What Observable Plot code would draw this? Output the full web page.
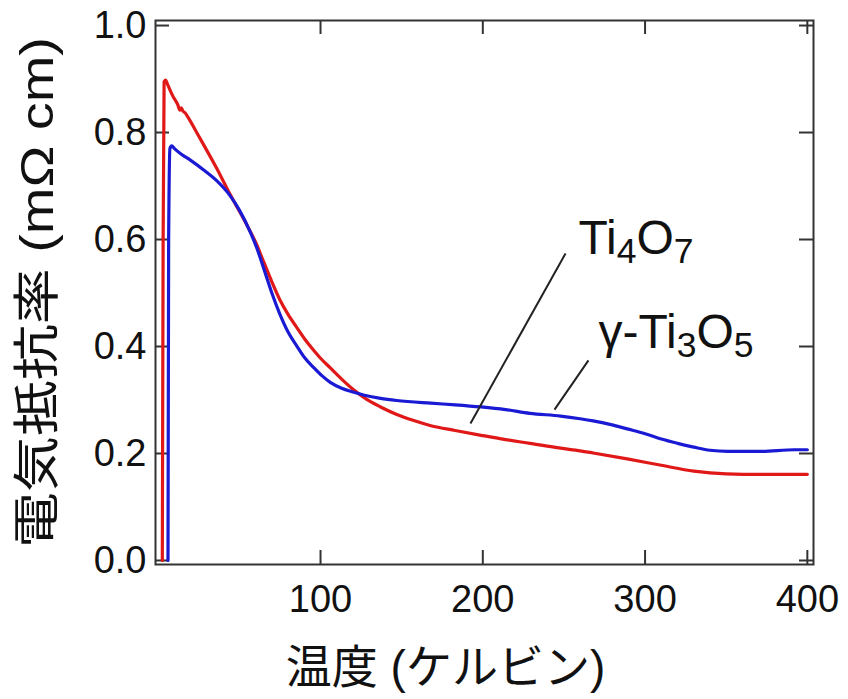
<!DOCTYPE html>
<html>
<head>
<meta charset="utf-8">
<script src="https://cdn.jsdelivr.net/npm/d3@7"></script>
<script src="https://cdn.jsdelivr.net/npm/@observablehq/plot@0.6"></script>
<style>
  html, body { margin: 0; padding: 0; background: #fff; }
</style>
</head>
<body>
<div id="chart"></div>
<script>
// ---- Data ----
const xTicks = [100, 200, 300, 400];
const yTicks = [0.0, 0.2, 0.4, 0.6, 0.8, 1.0];

// Ti4O7 (red)
const redT = [2.5, 3.0, 3.6, 4.5, 6, 9, 12, 13.3, 14.2, 15.2, 16.5, 18, 25, 36, 44.5, 50, 55, 60, 65, 70, 75, 80, 85, 90, 96, 100, 106, 113, 120, 128, 137, 147, 157, 168, 183, 199, 214, 229, 248, 260, 268, 289, 310, 330, 350, 371, 400];
const redR = [0.0, 0.60, 0.895, 0.898, 0.888, 0.868, 0.852, 0.842, 0.846, 0.840, 0.837, 0.830, 0.793, 0.733, 0.683, 0.653, 0.625, 0.595, 0.558, 0.521, 0.487, 0.460, 0.437, 0.415, 0.392, 0.378, 0.360, 0.339, 0.320, 0.302, 0.287, 0.273, 0.262, 0.252, 0.243, 0.234, 0.226, 0.219, 0.210, 0.205, 0.201, 0.190, 0.178, 0.167, 0.162, 0.161, 0.161];

// gamma-Ti3O5 (blue)
const blueT = [6.0, 6.4, 7.2, 8.3, 10, 14, 20, 28, 36, 44, 50, 57, 61, 65, 70, 75, 80, 85.6, 90, 96, 101, 106, 113, 120, 127, 137, 147, 168, 183, 199, 214, 229, 248, 260, 268, 279, 289, 300, 310, 320, 330, 340, 351, 371, 392, 400];
const blueR = [0.0, 0.60, 0.770, 0.775, 0.770, 0.760, 0.748, 0.730, 0.710, 0.683, 0.655, 0.612, 0.582, 0.546, 0.500, 0.460, 0.427, 0.400, 0.380, 0.360, 0.345, 0.333, 0.322, 0.315, 0.309, 0.303, 0.299, 0.294, 0.291, 0.287, 0.282, 0.275, 0.270, 0.265, 0.261, 0.254, 0.246, 0.237, 0.227, 0.219, 0.212, 0.206, 0.204, 0.204, 0.207, 0.207];

// annotation labels and leader lines
const labelNames = ["Ti4O7", "γ-Ti3O5"];
const labelT = [259, 271.3];
const labelR = [0.601, 0.426];
const leaderT1 = [192.4, 244.2];
const leaderR1 = [0.256, 0.282];
const leaderT2 = [251.0, 265.1];
const leaderR2 = [0.574, 0.374];

const xTitle = "温度 (ケルビン)";
const yTitle = "電気抵抗率 (mΩ cm)";

// ---- Build tables ----
const red = redT.map((t, i) => ({T: t, R: redR[i]}));
const blue = blueT.map((t, i) => ({T: t, R: blueR[i]}));
const labels = labelNames.map((n, i) => ({name: n, T: labelT[i], R: labelR[i]}));
const leaders = leaderT1.map((t, i) => ({t1: t, r1: leaderR1[i], t2: leaderT2[i], r2: leaderR2[i]}));

const W = 848, H = 699;
const mL = 155, mR = 35, mT = 20, mB = 135;
const innerW = W - mL - mR, innerH = H - mT - mB;
const tickLen = 14;
const axisColor = "#333";
const font = "'Liberation Sans', 'Noto Sans CJK JP', sans-serif";

const chart = Plot.plot({
  width: W,
  height: H,
  marginLeft: mL,
  marginRight: mR,
  marginTop: mT,
  marginBottom: mB,
  x: {domain: [-1.7, 403.8]},
  y: {domain: [-0.0075, 1.0094]},
  style: {fontFamily: font, background: "#fff", color: "#111"},
  marks: [
    // tick labels
    Plot.axisX(xTicks, {tickSize: 0, tickPadding: 21, fontSize: 38, label: null, tickFormat: d => String(d)}),
    Plot.axisY(yTicks, {tickSize: 0, tickPadding: 9, fontSize: 38, label: null, tickFormat: d3.format(".1f")}),
    // inward ticks on all four sides
    Plot.ruleX(xTicks, {x: d => d, insetTop: innerH - tickLen, stroke: axisColor, strokeWidth: 2}),
    Plot.ruleX(xTicks, {x: d => d, insetBottom: innerH - tickLen, stroke: axisColor, strokeWidth: 2}),
    Plot.ruleY(yTicks, {y: d => d, insetRight: innerW - tickLen, stroke: axisColor, strokeWidth: 2}),
    Plot.ruleY(yTicks, {y: d => d, insetLeft: innerW - tickLen, stroke: axisColor, strokeWidth: 2}),
    Plot.frame({stroke: axisColor, strokeWidth: 2}),
    // data curves
    Plot.line(red, {x: "T", y: "R", stroke: "#e01818", strokeWidth: 3.2, curve: "monotone-x"}),
    Plot.line(blue, {x: "T", y: "R", stroke: "#1a1ad4", strokeWidth: 3.2, curve: "monotone-x"}),
    // leader lines
    Plot.link(leaders, {x1: "t1", y1: "r1", x2: "t2", y2: "r2", stroke: "#222", strokeWidth: 2}),
    // annotation labels
    Plot.text(labels, {x: "T", y: "R", text: "name", textAnchor: "start", lineAnchor: "middle", fontSize: 48, fill: "#111", className: "chem"}),
    // axis titles
    Plot.text([xTitle], {text: d => d, frameAnchor: "bottom", dx: -39, dy: 104, textAnchor: "middle", lineAnchor: "middle", fontSize: 46, fill: "#111"}),
    Plot.text([yTitle], {text: d => d, frameAnchor: "left", dx: -118, rotate: -90, textAnchor: "middle", lineAnchor: "middle", fontSize: 47, fill: "#111", className: "ytitle"})
  ]
});

// chemical subscripts as real text (tspans)
d3.select(chart).selectAll("g.chem text").each(function () {
  const el = d3.select(this);
  const s = el.text();
  el.text("");
  const parts = s.match(/\d+|[^\d]+/g) || [];
  let shifted = false;
  parts.forEach(p => {
    const isSub = /^\d+$/.test(p);
    const ts = el.append("tspan").text(p);
    if (isSub) {
      ts.attr("font-size", "0.74em").attr("dy", shifted ? null : "9");
      shifted = true;
    } else if (shifted) {
      ts.attr("dy", "-9");
      shifted = false;
    }
  });
});

// the reference lettering of the vertical title is elongated along its length
d3.select(chart).selectAll("g.ytitle text").each(function () {
  const t = this.getAttribute("transform") || "";
  this.setAttribute("transform", t + " scale(1.19,1)");
});

document.getElementById("chart").appendChild(chart);
</script>
</body>
</html>
